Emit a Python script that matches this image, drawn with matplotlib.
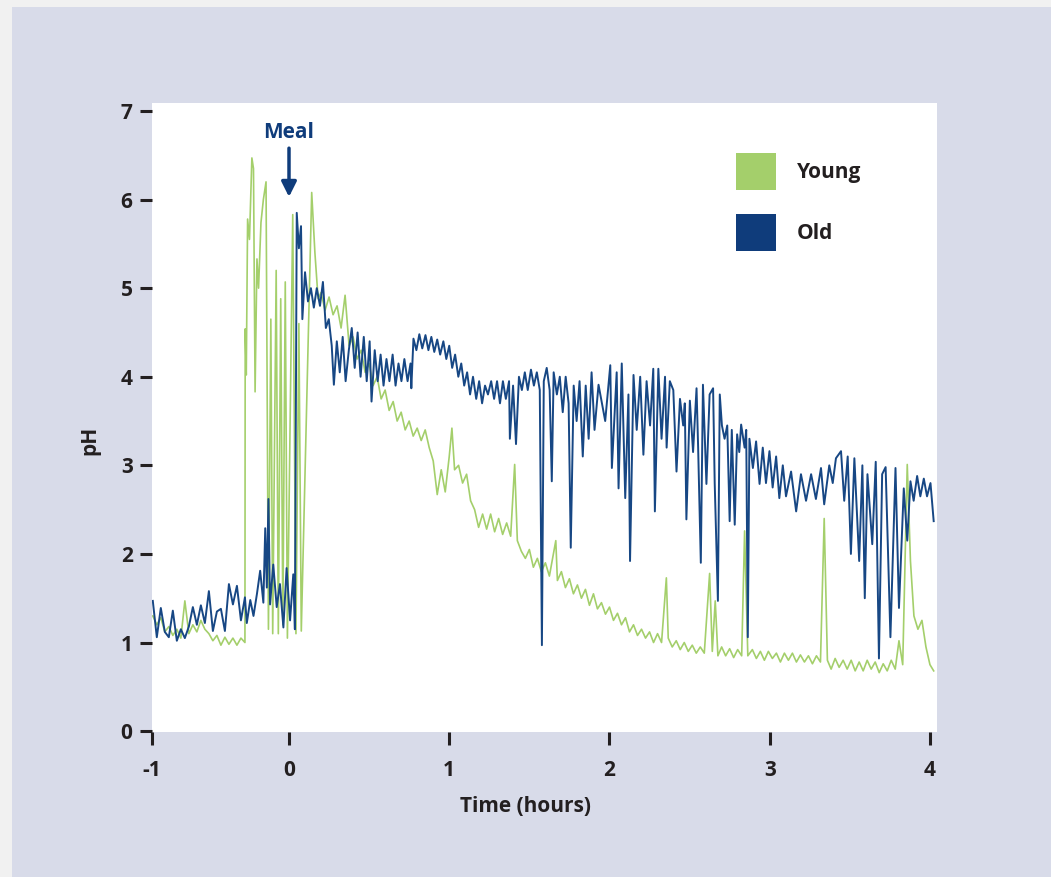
import matplotlib
matplotlib.use("Agg")
import matplotlib.pyplot as plt
from matplotlib.patches import Rectangle, Patch

plt.rcParams['font.family'] = ['Open Sans', 'DejaVu Sans']
plt.rcParams['font.weight'] = 'bold'

# time in minutes relative to the meal, pH readings
old_min = [-51, -49.5, -48, -46.5, -45, -43.5, -42, -40.5, -39, -37.5, -36, -34.5,
           -33, -31.5, -30, -28.5, -27, -25.5, -24, -22.5, -21, -19.5, -18, -16.5,
           -15.8, -14.5, -13.3, -12.0, -10.8, -9.6, -8.9, -8.3, -7.7, -7.1, -5.9, -4.6,
           -3.4, -2.1, -0.9, 0.4, 1.6, 2.2,
           2.9, 3.7, 4.5, 5.0, 6.0, 7.1, 8.2, 9.3, 10.4, 11.6, 12.7, 13.8, 14.9, 16.0,
           16.8, 17.9, 19.0, 20.1, 21.2, 22.4, 23.5, 24.6, 25.7, 26.8, 28.0, 29.1, 30.2,
           30.9, 32.1, 33.2, 34.3, 35.4, 36.5, 37.6, 38.8, 39.9, 41.0, 42.1, 43.2, 44.4,
           45.5, 45.8, 46.6, 47.7, 48.8, 49.9, 51.1, 52.2, 53.3, 54.4, 55.5, 56.6, 57.8,
           58.9, 60.0, 61.1, 62.2, 63.4, 64.5, 65.6, 66.7, 67.8, 68.9, 70.1, 71.2, 72.3,
           73.4, 74.5, 75.7, 76.8, 77.9, 79.0, 80.1, 81.2, 82.4, 82.7, 83.9, 85.0, 86.1,
           87.2, 88.3, 89.4, 90.6, 91.7, 92.8, 93.9, 94.7, 95.4, 96.5, 97.6, 98.4, 99.1,
           100.3, 101.4, 102.5, 103.6, 104.7, 105.5, 106.6, 107.7, 108.8, 110.0, 111.1,
           112.2, 113.3, 114.4,
           115.9, 118.4, 120.3, 120.9, 122.7, 123.4, 124.6, 125.9, 127.1, 127.7, 129.0,
           130.2, 131.5, 132.7, 133.9, 135.2, 136.4, 137.0, 138.3, 139.5, 140.8, 141.4,
           142.6, 143.9, 145.1, 146.4, 147.6, 148.2, 148.8, 150.1, 151.3, 152.6, 153.2,
           154.2, 155.0, 156.3, 157.5, 158.8, 159.4, 160.6, 161.3, 162.1, 163.1, 164.1,
           165.0, 165.8, 166.9, 167.8, 168.6, 169.3, 170.6, 171.2, 171.8, 172.4, 173.7,
           174.9, 176.2, 177.4, 178.6, 179.9, 181.1, 182.4, 183.6, 184.9, 186.1, 188.0,
           189.9, 191.7, 193.6, 195.5, 197.3, 199.2, 200.4, 202.3, 203.6, 204.8, 206.7,
           207.9, 209.2, 210.4, 211.7, 213.5, 214.7, 215.6, 216.6, 218.4, 219.7, 220.9,
           222.1, 223.4, 225.2, 227.1, 228.4, 230.2, 231.5, 232.7, 233.9, 235.2, 236.4,
           237.7, 238.9, 240.2, 241.4]
old_ph = [1.47, 1.06, 1.39, 1.12, 1.06, 1.36, 1.02, 1.15, 1.05, 1.18, 1.40, 1.20,
          1.42, 1.22, 1.58, 1.13, 1.35, 1.38, 1.13, 1.66, 1.43, 1.64, 1.25, 1.51,
          1.22, 1.48, 1.30, 1.55, 1.81, 1.45, 2.29, 1.62, 2.62, 1.43, 1.88, 1.40,
          1.66, 1.17, 1.84, 1.25, 1.77, 1.15,
          5.85, 5.45, 5.7, 4.65, 5.18, 4.85, 5.0, 4.78, 5.0, 4.8, 5.07, 4.55, 4.65, 4.35,
          3.91, 4.4, 4.05, 4.45, 3.95, 4.3, 4.55, 4.1, 4.5, 4.0, 4.45, 3.95, 4.4,
          3.72, 4.3, 3.95, 4.25, 3.9, 4.2, 3.95, 4.25, 3.9, 4.15, 3.95, 4.2, 3.95,
          4.15, 3.87, 4.43, 4.3, 4.48, 4.32, 4.47, 4.3, 4.45, 4.28, 4.42, 4.25, 4.4,
          4.2, 4.35, 4.1, 4.25, 4.0, 4.15, 3.9, 4.05, 3.8, 4.0, 3.75, 3.95, 3.7,
          3.9, 3.8, 3.95, 3.75, 3.95, 3.7, 3.95, 3.75, 3.95, 3.3, 3.9, 3.24, 4.0,
          3.85, 4.05, 3.85, 4.08, 3.9, 4.05, 3.85, 0.97, 3.95, 4.1, 3.85, 2.82, 4.05,
          3.8, 4.0, 3.6, 4.0, 3.7, 2.07, 3.9, 3.5, 3.95, 3.1, 3.9,
          3.3, 4.05, 3.4,
          3.91, 3.5, 4.13, 2.97, 4.05, 2.74, 4.15, 2.63, 3.8, 1.92, 4.02,
          3.4, 4.0, 3.12, 3.95, 3.45, 4.09, 2.48, 4.09, 3.3, 4.0, 3.2,
          3.95, 3.85, 2.93, 3.75, 3.45, 3.7, 2.39, 3.73, 3.15, 3.87, 3.2,
          1.9, 3.91, 2.79, 3.8, 3.87, 2.8, 1.47, 3.8, 3.45, 3.3, 3.45,
          2.37, 3.4, 2.33, 3.35, 3.15, 3.46, 3.2, 3.4, 1.06, 3.3, 2.97,
          3.27, 2.79, 3.2, 2.8, 3.16, 2.75, 3.1, 2.63, 3.0, 2.65, 2.93,
          2.48, 2.9, 2.6, 2.9, 2.62, 2.97, 2.56, 3.0, 2.8, 3.08, 3.16,
          2.6, 3.1, 2.0, 3.08, 1.92, 3.0, 1.5, 2.9, 2.11, 3.04, 0.82,
          2.9, 2.98, 1.06, 2.97, 1.39, 2.74, 2.15, 2.82, 2.6, 2.88, 2.65,
          2.85, 2.65, 2.8, 2.37]

young_min = [-51, -49.5, -48, -46.5, -45, -43.5, -42, -40.5, -39, -37.5, -36, -34.5,
             -33, -31.5, -30, -28.5, -27, -25.5, -24, -22.5, -21, -19.5, -18, -16.5,
             -16.4, -16.0, -15.5, -14.8, -13.9, -13.3, -12.7, -12.0, -11.4, -10.5, -9.6,
             -8.6, -7.7, -6.8, -6.1, -4.8, -4.0, -3.1, -2.3, -1.4, -0.6, 1.4, 2.6, 3.7,
             4.6, 8.5, 9.7, 10.9,
             12.0, 13.5, 15.0, 16.5, 18.0, 19.5, 21.0, 22.5, 24.0, 25.5, 27.0, 28.5, 30.0,
             31.5, 33.0, 34.5, 36.0, 37.5, 39.0, 40.5, 42.0, 43.5, 45.0, 46.5, 48.0, 49.5,
             51.0, 52.5, 54.0, 55.5, 57.0, 58.5, 60.0, 61.0, 62.0, 63.5, 65.0, 66.5, 68.0,
             69.5, 71.0, 72.5, 74.0, 75.5, 77.0, 78.5, 80.0, 81.5, 83.0, 84.5, 85.5, 87.0,
             88.5, 90.0, 91.5, 93.0, 94.5, 96.0, 97.5, 99.9, 100.5, 102.0, 103.5, 105.0,
             106.5, 108.0, 109.5, 111.0, 112.5, 114.0, 115.5,
             117.0, 118.5, 120.0, 121.5, 123.0, 124.5, 126.0, 127.5, 129.0, 130.5, 132.0,
             133.5, 135.0, 136.5, 138.0, 139.5, 141.3, 142.0, 143.5, 145.0, 146.5, 148.0,
             149.5, 151.0, 152.5, 154.0, 155.5, 157.5, 158.5, 159.6, 160.6, 162.0, 163.5,
             165.0, 166.5, 168.0, 169.5, 170.6, 171.8, 173.5, 175.0, 176.5, 178.0, 179.5,
             181.0, 182.5, 184.0, 185.5, 187.0, 188.5, 190.0, 191.5, 193.0, 194.5, 196.0,
             197.5, 199.0, 200.4, 201.6, 203.0, 204.5, 206.0, 207.5, 209.0, 210.5, 212.0,
             213.5, 215.0, 216.5, 218.0, 219.5, 221.0, 222.5, 224.0, 225.5, 227.0, 228.4,
             229.8, 231.5, 232.7, 234.0, 235.5, 237.0, 238.5, 240.0, 241.4]
young_ph = [1.3, 1.2, 1.28, 1.12, 1.18, 1.08, 1.15, 1.05, 1.47, 1.1, 1.2, 1.12,
            1.25, 1.15, 1.1, 1.02, 1.08, 0.97, 1.06, 0.98, 1.05, 0.97, 1.05, 1.0,
            4.54, 4.02, 5.78, 5.55, 6.47, 6.35, 3.83, 5.33, 5.0, 5.74, 6.0,
            6.2, 1.15, 4.65, 1.1, 5.2, 1.1, 4.88, 1.2, 5.07, 1.05, 5.83, 1.1, 4.6,
            1.13, 6.08, 5.4, 4.88,
            4.95, 4.75, 4.9, 4.7, 4.8, 4.55, 4.92, 4.35, 4.45, 4.2, 4.3, 4.05, 4.15,
            3.9, 4.0, 3.75, 3.85, 3.62, 3.72, 3.5, 3.6, 3.4, 3.5, 3.33, 3.42, 3.28,
            3.4, 3.2, 3.05, 2.67, 2.95, 2.7, 3.1, 3.42, 2.95, 3.0, 2.8, 2.9, 2.6,
            2.5, 2.3, 2.45, 2.28, 2.45, 2.25, 2.4, 2.22, 2.35, 2.2, 3.01, 2.15, 2.03,
            1.95, 2.05, 1.85, 1.95, 1.8, 1.9, 1.75, 2.15, 1.7, 1.8, 1.62, 1.72,
            1.55, 1.65, 1.5, 1.6, 1.42, 1.55, 1.38,
            1.45, 1.32, 1.4, 1.25, 1.33, 1.2, 1.28, 1.12, 1.2, 1.08, 1.15,
            1.05, 1.12, 1.0, 1.1, 1.0, 1.73, 1.05, 0.95, 1.02, 0.92, 1.0,
            0.9, 0.97, 0.88, 0.95, 0.88, 1.78, 0.9, 1.47, 0.85, 0.95, 0.85,
            0.93, 0.83, 0.92, 0.85, 2.26, 0.85, 0.92, 0.82, 0.9, 0.8, 0.9,
            0.82, 0.88, 0.78, 0.88, 0.8, 0.88, 0.78, 0.86, 0.78, 0.85, 0.76,
            0.85, 0.78, 2.4, 0.8, 0.7, 0.82, 0.72, 0.8, 0.7, 0.8, 0.68,
            0.78, 0.68, 0.8, 0.7, 0.78, 0.66, 0.76, 0.68, 0.8, 0.7, 1.02,
            0.75, 3.01, 1.92, 1.3, 1.15, 1.25, 0.95, 0.75, 0.68]

x_ticks = [-0.855, 0, 1, 2, 3, 4]
x_ticklabels = ['-1', '0', '1', '2', '3', '4']
y_ticks = [0, 1, 2, 3, 4, 5, 6, 7]

green = '#a4cf6b'
navy = '#0f3c7b'
line_navy = '#174784'
ink = '#231f20'

fig = plt.figure(figsize=(10.51, 8.77), dpi=100)
fig.patch.set_facecolor('#f1f1f1')
fig.patches.append(Rectangle((12 / 1051, 0), 1, 1 - 7 / 877, transform=fig.transFigure,
                             facecolor='#d8dbe9', edgecolor='none', zorder=-10))

ax = fig.add_axes([152 / 1051, 1 - 732 / 877, 785 / 1051, 629 / 877])
ax.set_zorder(1)
ax.set_facecolor('white')

ax.plot([t / 60 for t in young_min], young_ph, color=green, lw=1.2)
ax.plot([t / 60 for t in old_min], old_ph, color=line_navy, lw=1.4)

ax.set_xlim(-0.855, 4.044)
ax.set_ylim(-0.01, 7.09)
for s in ax.spines.values():
    s.set_visible(False)
ax.set_xticks(x_ticks)
ax.set_xticklabels(x_ticklabels)
ax.set_yticks(y_ticks)
ax.tick_params(direction='out', length=9, width=2.2, color=ink, labelcolor=ink,
               labelsize=15, pad=5)
ax.tick_params(axis='x', pad=11)

fig.text(525 / 1051, 1 - 806 / 877, 'Time (hours)', ha='center', va='center',
         fontsize=15, color=ink, fontweight='bold')
fig.text(90 / 1051, 1 - 440 / 877, 'pH', ha='center', va='center', rotation=90,
         fontsize=15, color=ink, fontweight='bold')

# meal marker
ax.annotate('', xy=(0, 6.03), xytext=(0, 6.58),
            arrowprops=dict(arrowstyle='-|>,head_length=0.9,head_width=0.45',
                            color=navy, lw=2.5, shrinkA=0, shrinkB=0))
ax.text(0, 6.76, 'Meal', ha='center', va='center', fontsize=15, color=navy,
        fontweight='bold')

handles = [Patch(facecolor=green, edgecolor='none', label='Young'),
           Patch(facecolor=navy, edgecolor='none', label='Old')]
ax.legend(handles=handles, loc='upper left', bbox_to_anchor=(0.744, 0.92),
          frameon=False, fontsize=15, handlelength=1.92, handleheight=2.36,
          handletextpad=1.0, labelspacing=1.15, borderpad=0, borderaxespad=0,
          labelcolor=ink)

fig.savefig('out.png', dpi=100, facecolor=fig.get_facecolor())
